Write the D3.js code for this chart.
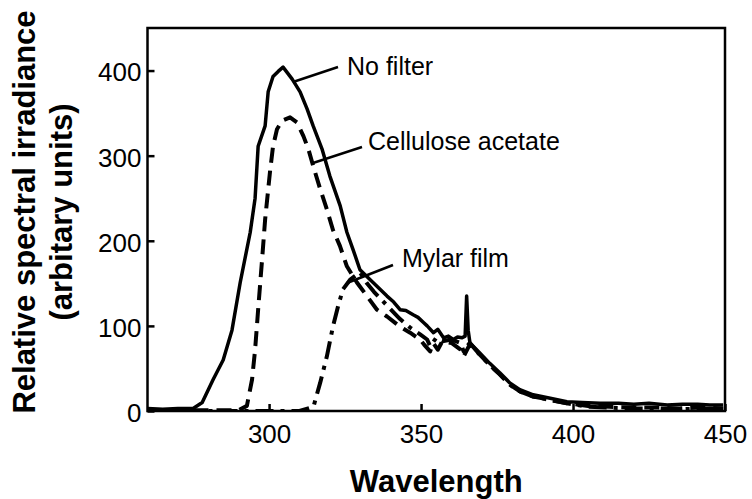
<!DOCTYPE html>
<html>
<head>
<meta charset="utf-8">
<script src="https://cdn.jsdelivr.net/npm/d3@7"></script>
<style>
html,body{margin:0;padding:0;background:#fff;}
svg{display:block;font-family:"Liberation Sans",Arial,sans-serif;}
</style>
</head>
<body>
<svg id="chart" width="752" height="499"></svg>
<script>
// ---- data ----
const xTicks = [300, 350, 400, 450];
const yTicks = [0, 100, 200, 300, 400];

const noFilterW = [260,265,270,275,278,281.6,284.9,287.8,290.5,293.8,295.4,296.4,298.7,299.7,301.3,303,304.6,307.6,310.2,312.5,314.5,317.4,320,323.4,325.6,327.6,329.9,334.2,338.8,341,343.1,345,347.4,349,350.8,352,354.1,355.5,357.4,359,360.6,362,363.5,364.5,365,365.5,366.1,369.4,372.6,375.9,379.2,382.5,386.9,392.5,398,403,408.9,415,420,425,431,436,441,445,449.4];
const noFilterV = [3,2,3,3,10,37,60,95,151,210,250,311,335,375,393,399,404,390,375,355,335,308,276,241,210,190,166,151,135,128,119,118,113,110,104,100,92,96,86,88,84,87,86,88,135,95,80,68,56,45,33,25,19,15,11,10,9,9,8,9,7,8,8,7,7];

const celluloseW = [260,270,280,290,292.7,294.4,295.4,296.4,297.7,298.7,300.3,301.3,302.6,304.3,306.9,309.2,311.3,312.9,314.5,316.8,319,321,323.3,325.6,328.9,332.2,335.5,338.8,343.1,344.5,346.4,348,349.7,351,353,354,355.5,357,360,363,364,366,369.4,372.6,375.9,379.2,382.5,386.9,392.5,398,405,412,420,428,435,442,449.4];
const celluloseV = [1,1,1,1,6,37,72,119,178,225,281,311,331,341,345,339,323,308,288,261,237,213,194,170,151,135,119,111,99,96,92,88,84,78,70,80,72,82,80,72,64,78,66,54,43,31,23,17,13,9,6,5,4,4,3,4,3];

const mylarW = [260,280,300,310,314.6,316.8,319,321,322.7,324.3,326.6,329.9,332.2,334.5,338.8,343.1,346.4,349.7,352,353,355,357,360,363,364,366,369.4,372.6,375.9,379.2,382.5,386.9,392.5,398,405,412,420,428,435,442,449.4];
const mylarV = [0,0,0,0,5,33,64,99,123,143,154,163,150,140,124,108,98,90,84,76,86,82,84,80,70,80,66,54,43,31,23,17,13,9,5,4,3,3,2,3,2];

const annotations = [
  {label: "No filter", tx: 347, ty: 75, x1: 338, y1: 67, x2: 293, y2: 82},
  {label: "Cellulose acetate", tx: 368, ty: 150, x1: 362, y1: 147, x2: 313, y2: 163},
  {label: "Mylar film", tx: 402, ty: 267, x1: 393, y1: 265, x2: 347, y2: 283}
];

// ---- layout ----
const svg = d3.select("#chart");
const pL = 147.5, pR = 725, pT = 28, pB = 411;
const x = d3.scaleLinear().domain([260, 450]).range([pL, pR]);
const y = d3.scaleLinear().domain([0, 450]).range([pB, pT]);

svg.append("defs").append("clipPath").attr("id","clip")
  .append("rect").attr("x",pL).attr("y",pT).attr("width",pR-pL).attr("height",pB-pT);

const line = d3.line().x(d => x(d[0])).y(d => y(d[1]));
const zip = (a,b) => a.map((v,i)=>[v,b[i]]);

const g = svg.append("g").attr("clip-path","url(#clip)");
g.append("path").datum(zip(mylarW, mylarV)).attr("d", line)
  .attr("fill","none").attr("stroke","#000").attr("stroke-width",4)
  .attr("stroke-dasharray","18,7,4,7").attr("stroke-linejoin","round");
g.append("path").datum(zip(celluloseW, celluloseV)).attr("d", line)
  .attr("fill","none").attr("stroke","#000").attr("stroke-width",4)
  .attr("stroke-dasharray","15,8").attr("stroke-linejoin","round");
g.append("path").datum(zip(noFilterW, noFilterV)).attr("d", line)
  .attr("fill","none").attr("stroke","#000").attr("stroke-width",3.5)
  .attr("stroke-linejoin","round");

// axes (inward ticks)
const xAxis = svg.append("g").attr("transform",`translate(0,${pB})`)
  .call(d3.axisBottom(x).tickValues(xTicks).tickSize(-7).tickPadding(14).tickSizeOuter(0));
const yAxis = svg.append("g").attr("transform",`translate(${pL},0)`)
  .call(d3.axisLeft(y).tickValues(yTicks).tickSize(-7).tickPadding(6).tickSizeOuter(0));
[xAxis, yAxis].forEach(a => {
  a.select(".domain").remove();
  a.selectAll(".tick line").attr("stroke","#000").attr("stroke-width",2.5);
  a.selectAll(".tick text").attr("fill","#000").attr("font-size","26px")
    .attr("font-family","'Liberation Sans',Arial,sans-serif");
});
yAxis.selectAll(".tick text").attr("dy","0.4em");

// frame
svg.append("rect").attr("x",pL).attr("y",pT).attr("width",pR-pL).attr("height",pB-pT)
  .attr("fill","none").attr("stroke","#000").attr("stroke-width",2.5);

// annotations
annotations.forEach(a => {
  svg.append("line").attr("x1",a.x1).attr("y1",a.y1).attr("x2",a.x2).attr("y2",a.y2)
    .attr("stroke","#000").attr("stroke-width",2.5);
  svg.append("text").attr("x",a.tx).attr("y",a.ty).attr("font-size","25px").attr("fill","#000").text(a.label);
});

// axis titles
svg.append("text").attr("x",(pL+pR)/2).attr("y",492).attr("text-anchor","middle")
  .attr("font-size","31px").attr("font-weight","bold").text("Wavelength");
const yt = svg.append("text").attr("transform","translate(0,212) rotate(-90)")
  .attr("text-anchor","middle").attr("font-size","31px").attr("font-weight","bold");
yt.append("tspan").attr("x",0).attr("y",35).text("Relative spectral irradiance");
yt.append("tspan").attr("x",0).attr("y",72).text("(arbitary units)");
</script>
</body>
</html>
